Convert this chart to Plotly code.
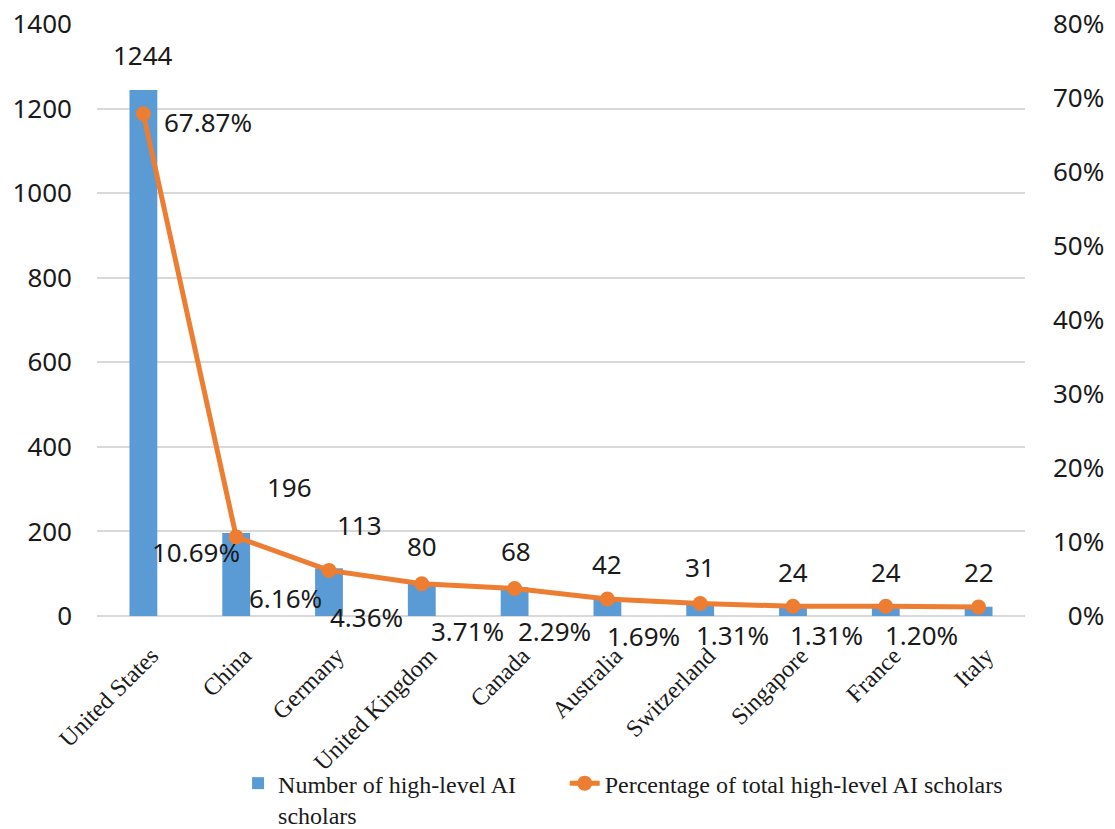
import plotly.graph_objects as go

# Countries and their counts of high-level AI scholars
countries = ["United States", "China", "Germany", "United Kingdom", "Canada",
             "Australia", "Switzerland", "Singapore", "France", "Italy"]
scholars = [1244, 196, 113, 80, 68, 42, 31, 24, 24, 22]
share_pct = [67.87, 10.69, 6.16, 4.36, 3.71, 2.29, 1.69, 1.31, 1.31, 1.20]

left_ticks = [0, 200, 400, 600, 800, 1000, 1200, 1400]
right_ticks = [0, 10, 20, 30, 40, 50, 60, 70, 80]

# label placement offsets (px) relative to the data point
count_label_shift = [(0, 35), (53, 46), (30, 43), (0, 36), (1, 36),
                     (0, 34), (0, 36), (0, 34), (0, 34), (0, 35)]
pct_label_shift = [(65, -8), (-40, -15), (-44, -28), (-55, -33), (-47, -42),
                   (-53, -32), (-57, -33), (-61, -29), (-59, -29), (-57, -28)]

BLUE = "#5B9BD5"
ORANGE = "#ED7D31"
NUM_FONT = "Noto Sans"
SERIF = "Liberation Serif"
TEXT = "#1a1a1a"

fig = go.Figure()
fig.add_trace(go.Bar(
    x=countries, y=scholars, name="Number of high-level AI<br>scholars",
    marker=dict(color=BLUE, line=dict(width=0)), width=0.3, yaxis="y",
    legend="legend",
))
fig.add_trace(go.Scatter(
    x=countries, y=[p / 100 for p in share_pct],
    name="Percentage of total high-level AI scholars", yaxis="y2",
    mode="lines+markers", line=dict(color=ORANGE, width=5),
    marker=dict(color=ORANGE, size=15), legend="legend2",
))

annotations = []
for c, v, (dx, dy) in zip(countries, scholars, count_label_shift):
    annotations.append(dict(
        x=c, y=v, xref="x", yref="y", text=str(v), showarrow=False,
        xshift=dx, yshift=dy, font=dict(family=NUM_FONT, size=26, color=TEXT),
    ))
for c, p, (dx, dy) in zip(countries, share_pct, pct_label_shift):
    annotations.append(dict(
        x=c, y=p / 100, xref="x", yref="y2", text=f"{p:.2f}%", showarrow=False,
        xshift=dx, yshift=dy, font=dict(family=NUM_FONT, size=26, color=TEXT),
    ))

# right-aligned percent tick text (figure space pads the single-digit label)
right_text = [("\u2007" if t < 10 else "") + f"{t}%" for t in right_ticks]

legend_style = dict(
    orientation="h", xanchor="left", yanchor="top", valign="top",
    font=dict(family=SERIF, size=24, color=TEXT), bgcolor="rgba(0,0,0,0)",
)

fig.update_layout(
    width=1115, height=829,
    margin=dict(l=97, r=90, t=24, b=213, autoexpand=False),
    paper_bgcolor="white", plot_bgcolor="white",
    showlegend=True,
    legend=dict(x=0.152, y=-0.245, **legend_style),
    legend2=dict(x=0.504, y=-0.245, **legend_style),
    xaxis=dict(
        type="category", range=[-0.5, len(countries) - 0.5],
        tickangle=-45, showgrid=False, showline=False,
        ticks="", ticklabelstandoff=20, ticklabelshift=8, automargin=False,
        tickfont=dict(family=SERIF, size=24, color=TEXT),
    ),
    yaxis=dict(
        range=[0, 1400], tickvals=left_ticks, ticks="",
        showgrid=True, gridcolor="#d9d9d9", gridwidth=1.5,
        zeroline=True, zerolinecolor="#d9d9d9", zerolinewidth=1.5,
        showline=False, ticklabelstandoff=24, automargin=False,
        tickfont=dict(family=NUM_FONT, size=26, color=TEXT),
    ),
    yaxis2=dict(
        range=[0, 0.8], overlaying="y", side="right",
        tickvals=[t / 100 for t in right_ticks], ticktext=right_text,
        showgrid=False, zeroline=False, showline=False, ticks="",
        ticklabelstandoff=27, automargin=False,
        tickfont=dict(family=NUM_FONT, size=26, color=TEXT),
    ),
    annotations=annotations,
)

fig.write_html("out.html")
